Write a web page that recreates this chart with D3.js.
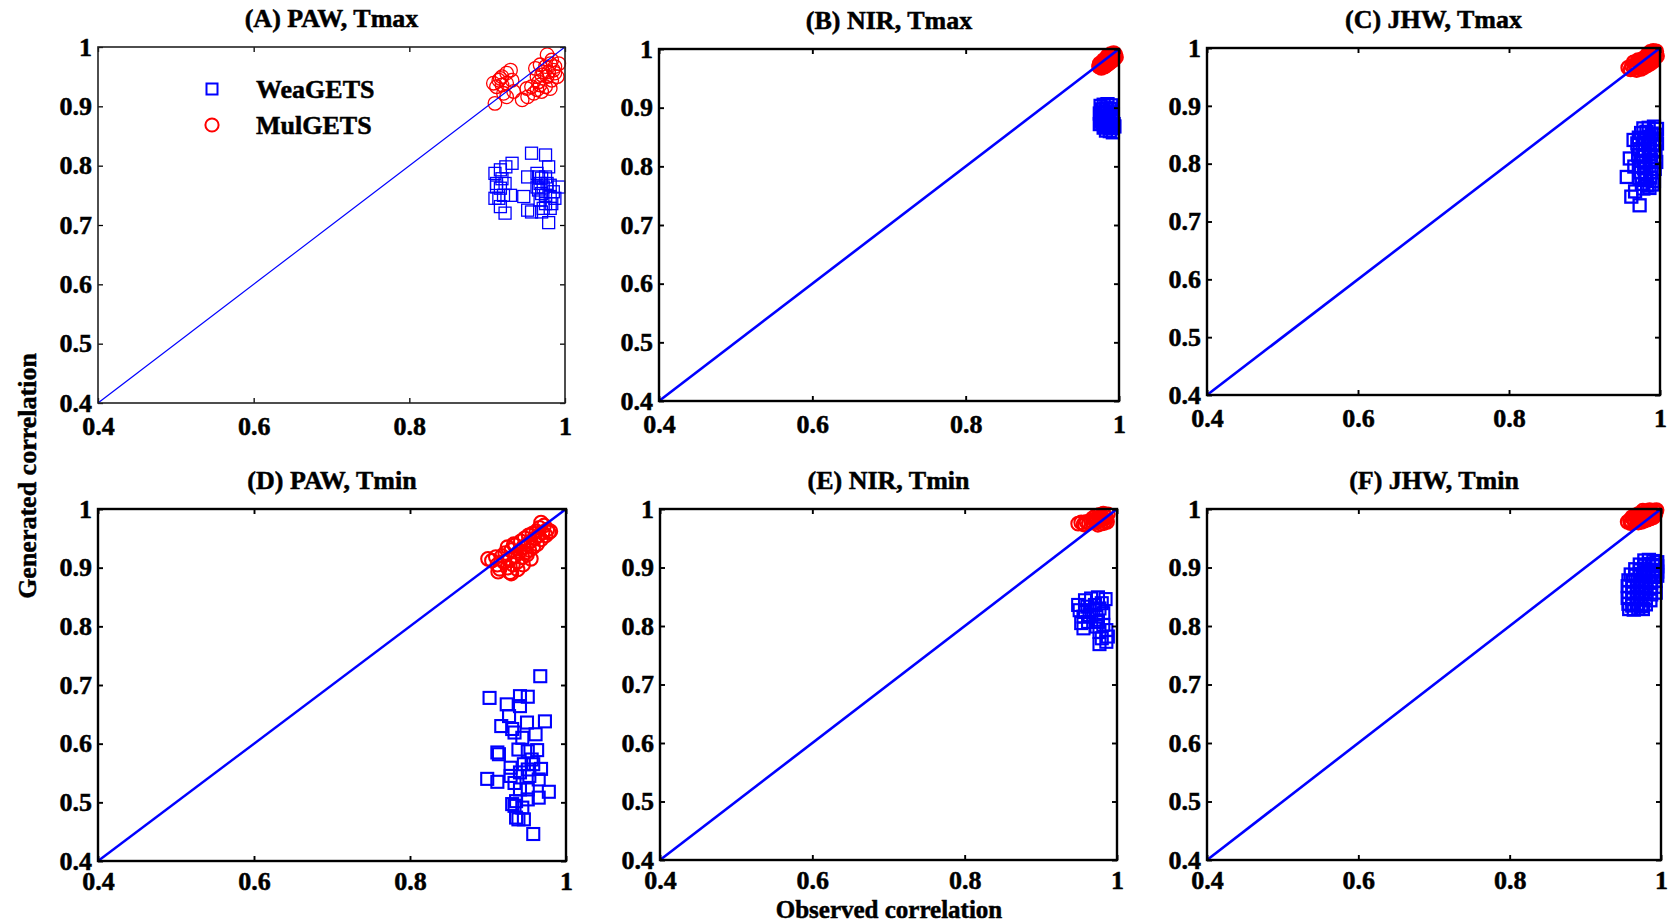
<!DOCTYPE html>
<html><head><meta charset="utf-8">
<script src="https://cdn.jsdelivr.net/npm/d3@7"></script>
<style>
html,body{margin:0;padding:0;background:#fff;}
svg{display:block;}
svg text{font-family:"Liberation Serif","Times New Roman",serif;font-weight:bold;fill:#000;stroke:#000;stroke-width:0.5px;}
</style></head><body>
<svg id="chart" width="1669" height="923"></svg>
<script>
// Axis ticks shared by all six panels
const xTicks = [0.4, 0.6, 0.8, 1];
const yTicks = [0.4, 0.5, 0.6, 0.7, 0.8, 0.9, 1];
const seriesNames = ["WeaGETS", "MulGETS"];
const panelTitles = ["(A) PAW, Tmax", "(B) NIR, Tmax", "(C) JHW, Tmax",
                     "(D) PAW, Tmin", "(E) NIR, Tmin", "(F) JHW, Tmin"];
const xLabel = "Observed correlation";
const yLabel = "Generated correlation";

// [observed, generated] correlation pairs
const pawTmaxWea = [[0.910,0.787],[0.917,0.793],[0.924,0.798],[0.932,0.804],[0.912,0.770],[0.919,0.778],[0.910,0.745],[0.915,0.745],[0.921,0.750],[0.930,0.750],[0.912,0.764],[0.917,0.731],[0.923,0.720],[0.917,0.762],[0.923,0.770],
  [0.957,0.821],[0.975,0.818],[0.947,0.748],[0.952,0.781],[0.952,0.725],[0.957,0.722],[0.964,0.787],[0.966,0.781],[0.970,0.779],[0.975,0.781],[0.979,0.798],[0.968,0.770],[0.972,0.764],[0.977,0.770],[0.981,0.767],[0.992,0.764],[0.966,0.759],[0.970,0.753],[0.975,0.750],[0.981,0.748],[0.987,0.745],[0.968,0.742],[0.975,0.736],[0.983,0.736],[0.972,0.728],[0.981,0.728],[0.970,0.722],[0.979,0.704],[0.964,0.764],[0.985,0.756]];
const pawTmaxMul = [[0.910,0.905],[0.908,0.939],[0.915,0.944],[0.919,0.950],[0.925,0.956],[0.930,0.961],[0.912,0.933],[0.919,0.936],[0.925,0.939],[0.932,0.944],[0.921,0.922],[0.925,0.916],[0.934,0.925],[0.917,0.947],
  [0.945,0.911],[0.952,0.916],[0.960,0.922],[0.951,0.930],[0.957,0.933],[0.964,0.928],[0.970,0.925],[0.968,0.936],[0.975,0.933],[0.981,0.930],[0.964,0.950],[0.970,0.953],[0.977,0.950],[0.983,0.944],[0.962,0.964],[0.968,0.970],[0.975,0.967],[0.981,0.972],[0.987,0.967],[0.992,0.972],[0.977,0.987],[0.983,0.978],[0.972,0.958],[0.979,0.958],[0.987,0.956],[0.966,0.941],[0.985,0.961],[0.990,0.950]];

const nirTmaxWea = [[0.976,0.903],[0.980,0.905],[0.985,0.906],[0.990,0.904],[0.978,0.897],[0.983,0.899],[0.988,0.898],[0.975,0.890],[0.980,0.892],[0.985,0.893],[0.990,0.891],[0.976,0.884],[0.981,0.886],[0.986,0.885],[0.991,0.884],[0.977,0.878],[0.982,0.880],[0.987,0.879],[0.992,0.877],[0.975,0.872],[0.979,0.873],[0.984,0.874],[0.989,0.871],[0.993,0.872],[0.980,0.866],[0.985,0.867],[0.990,0.865],[0.994,0.868],[0.983,0.861],[0.988,0.860],[0.992,0.858],[0.978,0.876],[0.981,0.869],[0.986,0.872],[0.992,0.889]];
const nirTmaxMul = [[0.974,0.970],[0.976,0.972],[0.978,0.975],[0.980,0.973],[0.982,0.977],[0.984,0.979],[0.986,0.981],[0.988,0.983],[0.990,0.985],[0.992,0.987],[0.994,0.989],[0.995,0.991],[0.977,0.968],[0.981,0.970],[0.985,0.974],[0.989,0.978],[0.993,0.982],[0.979,0.978],[0.983,0.982],[0.987,0.986],[0.991,0.990],[0.985,0.988],[0.989,0.991],[0.993,0.993],[0.996,0.986],[0.983,0.972],[0.987,0.976],[0.991,0.980],[0.975,0.975],[0.980,0.981]];

const jhwTmaxWea = [[0.978,0.861],[0.985,0.862],[0.992,0.864],[0.996,0.860],[0.975,0.853],[0.982,0.855],[0.989,0.852],[0.995,0.850],[0.972,0.845],[0.979,0.843],[0.986,0.846],[0.993,0.842],[0.970,0.835],[0.977,0.833],[0.984,0.836],[0.991,0.832],[0.996,0.835],[0.973,0.825],[0.980,0.822],[0.987,0.826],[0.994,0.821],[0.971,0.815],[0.978,0.812],[0.985,0.816],[0.992,0.811],[0.974,0.805],[0.981,0.802],[0.988,0.806],[0.995,0.803],[0.972,0.795],[0.979,0.792],[0.986,0.796],[0.993,0.791],[0.975,0.785],[0.982,0.782],[0.989,0.786],[0.973,0.775],[0.980,0.772],[0.987,0.776],[0.992,0.770],[0.976,0.765],[0.983,0.762],[0.990,0.764],[0.978,0.757],[0.986,0.758],
  [0.956,0.777],[0.960,0.809],[0.962,0.743],[0.973,0.728],[0.965,0.841],[0.967,0.752],[0.966,0.795]];
const jhwTmaxMul = [[0.958,0.966],[0.961,0.963],[0.963,0.969],[0.966,0.965],[0.968,0.971],[0.970,0.967],[0.972,0.974],[0.974,0.969],[0.976,0.976],[0.978,0.972],[0.980,0.979],[0.982,0.975],[0.984,0.981],[0.986,0.977],[0.988,0.984],[0.990,0.980],[0.992,0.987],[0.994,0.990],[0.995,0.994],[0.993,0.983],[0.989,0.990],[0.985,0.987],[0.981,0.984],[0.977,0.981],[0.973,0.978],[0.969,0.962],[0.975,0.964],[0.979,0.967],[0.983,0.970],[0.987,0.973],[0.991,0.977],[0.996,0.986],[0.965,0.975],[0.971,0.979],[0.987,0.993],[0.991,0.995],[0.983,0.988]];

const pawTminWea = [[0.967,0.715],[0.902,0.678],[0.941,0.681],[0.951,0.680],[0.924,0.667],[0.941,0.664],[0.973,0.638],[0.927,0.647],[0.950,0.636],[0.917,0.630],[0.931,0.625],[0.961,0.616],[0.944,0.610],[0.912,0.585],[0.914,0.582],[0.939,0.590],[0.951,0.587],[0.963,0.589],[0.956,0.573],[0.946,0.565],[0.929,0.559],[0.951,0.556],[0.968,0.557],[0.899,0.540],[0.912,0.535],[0.929,0.545],[0.934,0.533],[0.953,0.545],[0.965,0.539],[0.941,0.522],[0.951,0.522],[0.978,0.518],[0.965,0.508],[0.936,0.502],[0.931,0.497],[0.951,0.505],[0.944,0.491],[0.936,0.474],[0.946,0.471],[0.958,0.446],[0.939,0.471],[0.934,0.494],[0.941,0.551],[0.958,0.565],[0.934,0.619]];
const pawTminMul = [[0.900,0.915],[0.905,0.912],[0.910,0.918],[0.912,0.905],[0.915,0.898],[0.918,0.920],[0.920,0.910],[0.922,0.925],[0.925,0.900],[0.928,0.892],[0.928,0.915],[0.930,0.930],[0.932,0.905],[0.935,0.920],[0.935,0.938],[0.938,0.910],[0.938,0.897],[0.940,0.928],[0.942,0.945],[0.944,0.918],[0.945,0.935],[0.947,0.950],[0.948,0.925],[0.950,0.940],[0.952,0.955],[0.953,0.930],[0.955,0.945],[0.957,0.958],[0.958,0.935],[0.960,0.950],[0.962,0.962],[0.963,0.940],[0.965,0.955],[0.966,0.968],[0.968,0.948],[0.970,0.960],[0.972,0.972],[0.974,0.955],[0.976,0.965],[0.978,0.960],[0.945,0.905],[0.955,0.915],[0.933,0.940],[0.925,0.935],[0.950,0.922],[0.968,0.977],[0.980,0.962],[0.930,0.890],[0.913,0.893]];

const nirTminWea = [[0.949,0.836],[0.958,0.844],[0.966,0.847],[0.975,0.849],[0.985,0.846],[0.951,0.827],[0.961,0.833],[0.971,0.836],[0.980,0.839],[0.956,0.816],[0.964,0.819],[0.973,0.816],[0.982,0.822],[0.953,0.805],[0.962,0.807],[0.975,0.807],[0.956,0.796],[0.973,0.799],[0.982,0.802],[0.986,0.793],[0.977,0.790],[0.988,0.782],[0.980,0.779],[0.977,0.769],[0.986,0.773],[0.969,0.827],[0.977,0.830],[0.958,0.824]];
const nirTminMul = [[0.949,0.975],[0.953,0.977],[0.956,0.974],[0.960,0.978],[0.963,0.976],[0.966,0.980],[0.969,0.977],[0.971,0.982],[0.974,0.979],[0.976,0.985],[0.978,0.981],[0.980,0.987],[0.982,0.983],[0.984,0.989],[0.986,0.985],[0.988,0.991],[0.985,0.980],[0.979,0.975],[0.975,0.973],[0.972,0.988],[0.977,0.990],[0.982,0.992],[0.968,0.984],[0.987,0.978],[0.983,0.976],[0.958,0.973]];

const jhwTminWea = [[0.978,0.912],[0.984,0.913],[0.990,0.911],[0.995,0.909],[0.972,0.905],[0.978,0.903],[0.984,0.906],[0.990,0.904],[0.995,0.902],[0.966,0.897],[0.972,0.895],[0.978,0.898],[0.984,0.894],[0.990,0.896],[0.995,0.893],[0.960,0.888],[0.966,0.886],[0.972,0.889],[0.978,0.885],[0.984,0.887],[0.990,0.884],[0.995,0.886],[0.957,0.878],[0.963,0.876],[0.969,0.879],[0.975,0.875],[0.981,0.878],[0.987,0.874],[0.993,0.877],[0.956,0.868],[0.962,0.866],[0.968,0.869],[0.974,0.865],[0.980,0.868],[0.986,0.864],[0.992,0.867],[0.957,0.858],[0.963,0.856],[0.969,0.859],[0.975,0.855],[0.981,0.858],[0.987,0.854],[0.993,0.857],[0.956,0.848],[0.962,0.846],[0.968,0.849],[0.974,0.845],[0.980,0.848],[0.986,0.844],[0.957,0.838],[0.962,0.835],[0.968,0.838],[0.974,0.834],[0.980,0.837],[0.958,0.829],[0.964,0.828],[0.970,0.830],[0.976,0.829]];
const jhwTminMul = [[0.956,0.978],[0.959,0.981],[0.961,0.977],[0.963,0.983],[0.965,0.979],[0.967,0.985],[0.969,0.981],[0.971,0.987],[0.973,0.983],[0.975,0.989],[0.977,0.985],[0.979,0.991],[0.981,0.987],[0.983,0.993],[0.985,0.989],[0.987,0.995],[0.989,0.991],[0.991,0.997],[0.993,0.994],[0.994,0.998],[0.990,0.986],[0.986,0.984],[0.982,0.982],[0.978,0.980],[0.974,0.978],[0.970,0.977],[0.966,0.989],[0.970,0.991],[0.975,0.993],[0.980,0.996],[0.985,0.998],[0.962,0.986],[0.988,0.988],[0.992,0.990],[0.960,0.976],[0.976,0.997]];

const weaData = [pawTmaxWea, nirTmaxWea, jhwTmaxWea, pawTminWea, nirTminWea, jhwTminWea];
const mulData = [pawTmaxMul, nirTmaxMul, jhwTmaxMul, pawTminMul, nirTminMul, jhwTminMul];

// Pixel frame of each axes box: [left, top, right, bottom]
const frames = [[98,47,565,403],[659,49,1119,401],[1207,48,1660,395],
                [98,509,566,861],[660,509,1117,860],[1207,509,1661,860]];
// Line weights per panel: [frame, diagonal, marker stroke]
const weights = [[1.6,1.2,1.3],[2.4,2.6,2.3],[2.4,2.6,2.3],
                 [2.4,2.4,2.1],[2.4,2.6,2.1],[2.4,2.6,2.3]];

const BLUE = "#0000ff", RED = "#ff0000";
const FS = 26;
const svg = d3.select("#chart");
const fmt = d => d === 1 ? "1" : d3.format(".1f")(d);

panelTitles.forEach((title, i) => {
  const [l, t, r, b] = frames[i];
  const [fw, dw, mw] = weights[i];
  const x = d3.scaleLinear().domain([0.4, 1]).range([l, r]);
  const y = d3.scaleLinear().domain([0.4, 1]).range([b, t]);
  const g = svg.append("g");

  // scatter markers: squares first, then circles
  const half = 6;
  g.append("g").selectAll("rect").data(weaData[i]).join("rect")
    .attr("x", d => x(d[0]) - half).attr("y", d => y(d[1]) - half)
    .attr("width", half * 2).attr("height", half * 2)
    .attr("fill", "none").attr("stroke", BLUE).attr("stroke-width", mw);
  g.append("g").selectAll("circle").data(mulData[i]).join("circle")
    .attr("cx", d => x(d[0])).attr("cy", d => y(d[1])).attr("r", 6.8)
    .attr("fill", "none").attr("stroke", RED).attr("stroke-width", mw);

  // 1:1 line
  g.append("path").datum([0.4, 1])
    .attr("d", d3.line().x(v => x(v)).y(v => y(v)))
    .attr("stroke", BLUE).attr("stroke-width", dw).attr("fill", "none");

  // axes with inward ticks on all four sides
  const styleAxis = sel => {
    sel.attr("font-family", null).attr("font-size", FS);
    sel.select(".domain").remove();
    sel.selectAll(".tick line").attr("stroke", "#000").attr("stroke-width", fw * 0.8);
    sel.selectAll(".tick text").attr("font-size", FS);
  };
  g.append("g").attr("transform", `translate(0,${b})`)
    .call(d3.axisBottom(x).tickValues(xTicks).tickFormat(fmt).tickSizeInner(-5).tickSizeOuter(0)
      .tickPadding(i < 3 ? 14 : 11))
    .call(styleAxis);
  g.append("g").attr("transform", `translate(${l},0)`)
    .call(d3.axisLeft(y).tickValues(yTicks).tickFormat(fmt).tickSizeInner(-5).tickSizeOuter(0).tickPadding(6))
    .call(styleAxis);
  g.append("g").attr("transform", `translate(0,${t})`)
    .call(d3.axisTop(x).tickValues(xTicks).tickFormat("").tickSizeInner(-5).tickSizeOuter(0))
    .call(styleAxis);
  g.append("g").attr("transform", `translate(${r},0)`)
    .call(d3.axisRight(y).tickValues(yTicks).tickFormat("").tickSizeInner(-5).tickSizeOuter(0))
    .call(styleAxis);

  g.append("rect").attr("x", l).attr("y", t).attr("width", r - l).attr("height", b - t)
    .attr("fill", "none").attr("stroke", i === 0 ? "#222" : "#000").attr("stroke-width", fw);

  g.append("text").attr("x", (l + r) / 2).attr("y", t - 20)
    .attr("text-anchor", "middle").attr("font-size", FS).text(title);

  // legend inside the first panel
  if (i === 0) {
    const lg = g.append("g");
    lg.append("rect").attr("x", 212 - 5.5).attr("y", 89 - 5.5).attr("width", 11).attr("height", 11)
      .attr("fill", "none").attr("stroke", BLUE).attr("stroke-width", 2);
    lg.append("circle").attr("cx", 212).attr("cy", 125).attr("r", 6.6)
      .attr("fill", "none").attr("stroke", RED).attr("stroke-width", 2);
    lg.selectAll("text").data(seriesNames).join("text")
      .attr("x", 256).attr("y", (d, k) => [98, 134][k])
      .attr("font-size", FS).text(d => d);
  }
});

svg.append("text").attr("x", 889).attr("y", 917.5).attr("text-anchor", "middle")
  .attr("font-size", 25).text(xLabel);
svg.append("text").attr("transform", "translate(36,476) rotate(-90)")
  .attr("text-anchor", "middle").attr("font-size", FS).text(yLabel);
</script>
</body></html>
